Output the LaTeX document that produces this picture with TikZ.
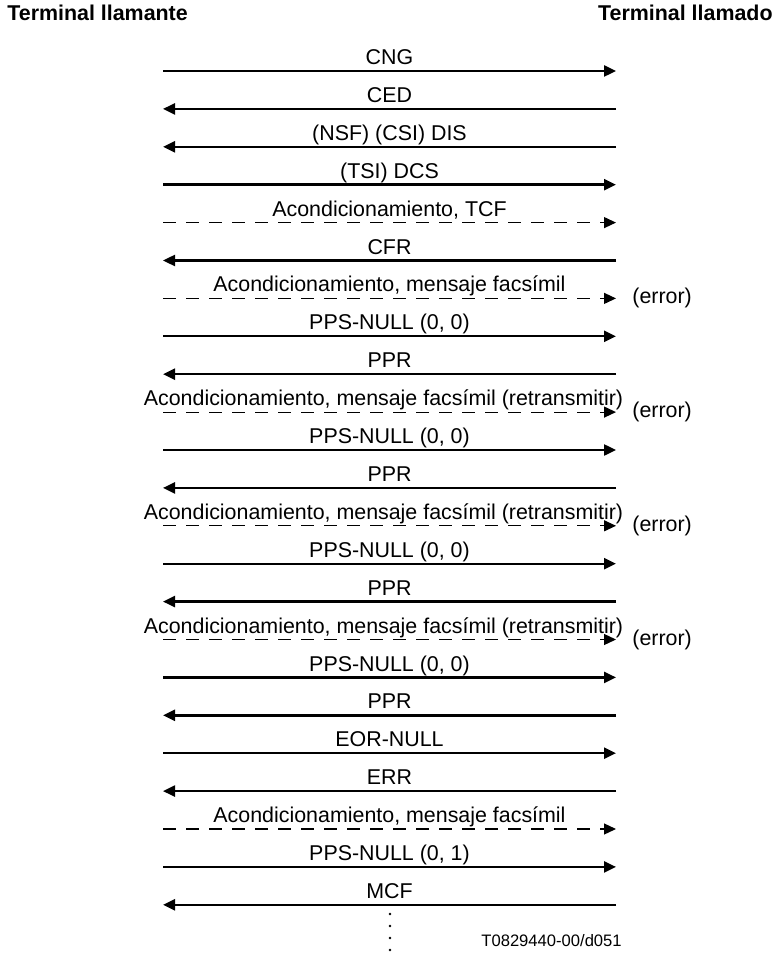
\documentclass[tikz,border=0pt]{standalone}
\usepackage{fontspec}
\setmainfont{Liberation Sans}
\usetikzlibrary{arrows.meta,positioning}

\tikzset{
  msg/.style={line width=1.2pt,-{Triangle[length=6pt,width=5.5pt]}},
  msgdash/.style={msg,line width=0.6pt,dash pattern=on 6.5pt off 5pt},
  lbl/.style={font=\fontsize{10.7}{12}\selectfont,inner sep=0pt,anchor=base,yshift=3.2pt},
  lbllong/.style={lbl,xshift=-3pt},
  errlbl/.style={font=\fontsize{10.7}{12}\selectfont,inner sep=0pt},
  head/.style={font=\fontsize{10.7}{12}\selectfont\bfseries,inner sep=0pt},
}

\begin{document}
\begin{tikzpicture}[x=0.5pt,y=-0.5pt]

		\useasboundingbox (0,0) rectangle (777,956);

		% Terminales
		\node[head,anchor=west] (llamante) at (7,13) {Terminal llamante};
		\node[head,anchor=east] (llamado) at (773,13) {Terminal llamado};

		% Extremos de cada mensaje
		\foreach \i in {1,...,23} {
			\coordinate (l\i) at (163,{71+(\i-1)*37.9});
			\coordinate (r\i) at (616,{71+(\i-1)*37.9});
		}

		% Establecimiento
		\draw[msg] (l1) -- node[lbl] (m1) {CNG} (r1);
		\draw[msg] (r2) -- node[lbl] (m2) {CED} (l2);
		\draw[msg] (r3) -- node[lbl] (m3) {(NSF) (CSI) DIS} (l3);
		\draw[msg] (l4) -- node[lbl] (m4) {(TSI) DCS} (r4);
		\draw[msgdash] (l5) -- node[lbl] (m5) {Acondicionamiento, TCF} (r5);
		\draw[msg] (r6) -- node[lbl] (m6) {CFR} (l6);

		% Primer mensaje con error
		\draw[msgdash] (l7) -- node[lbl] (m7) {Acondicionamiento, mensaje facsímil} (r7);
		\node[errlbl,right=8pt of r7] (e7) {(error)};
		\draw[msg] (l8) -- node[lbl] (m8) {PPS-NULL (0, 0)} (r8);
		\draw[msg] (r9) -- node[lbl] (m9) {PPR} (l9);

		% Retransmisiones
		\draw[msgdash] (l10) -- node[lbllong] (m10) {Acondicionamiento, mensaje facsímil (retransmitir)} (r10);
		\node[errlbl,right=8pt of r10] (e10) {(error)};
		\draw[msg] (l11) -- node[lbl] (m11) {PPS-NULL (0, 0)} (r11);
		\draw[msg] (r12) -- node[lbl] (m12) {PPR} (l12);

		\draw[msgdash] (l13) -- node[lbllong] (m13) {Acondicionamiento, mensaje facsímil (retransmitir)} (r13);
		\node[errlbl,right=8pt of r13] (e13) {(error)};
		\draw[msg] (l14) -- node[lbl] (m14) {PPS-NULL (0, 0)} (r14);
		\draw[msg] (r15) -- node[lbl] (m15) {PPR} (l15);

		\draw[msgdash] (l16) -- node[lbllong] (m16) {Acondicionamiento, mensaje facsímil (retransmitir)} (r16);
		\node[errlbl,right=8pt of r16] (e16) {(error)};
		\draw[msg] (l17) -- node[lbl] (m17) {PPS-NULL (0, 0)} (r17);
		\draw[msg] (r18) -- node[lbl] (m18) {PPR} (l18);

		% Fin de retransmision
		\draw[msg] (l19) -- node[lbl] (m19) {EOR-NULL} (r19);
		\draw[msg] (r20) -- node[lbl] (m20) {ERR} (l20);
		\draw[msgdash] (l21) -- node[lbl] (m21) {Acondicionamiento, mensaje facsímil} (r21);
		\draw[msg] (l22) -- node[lbl] (m22) {PPS-NULL (0, 1)} (r22);
		\draw[msg] (r23) -- node[lbl] (m23) {MCF} (l23);

		% Continuacion
		\foreach \y in {914,926,938,950}
			\fill (390,\y) circle (1.3);
		\node[font=\fontsize{8.3}{10}\selectfont,inner sep=0pt,anchor=base west] (ref) at (481,946) {T0829440-00/d051};

	\end{tikzpicture}
\end{document}
